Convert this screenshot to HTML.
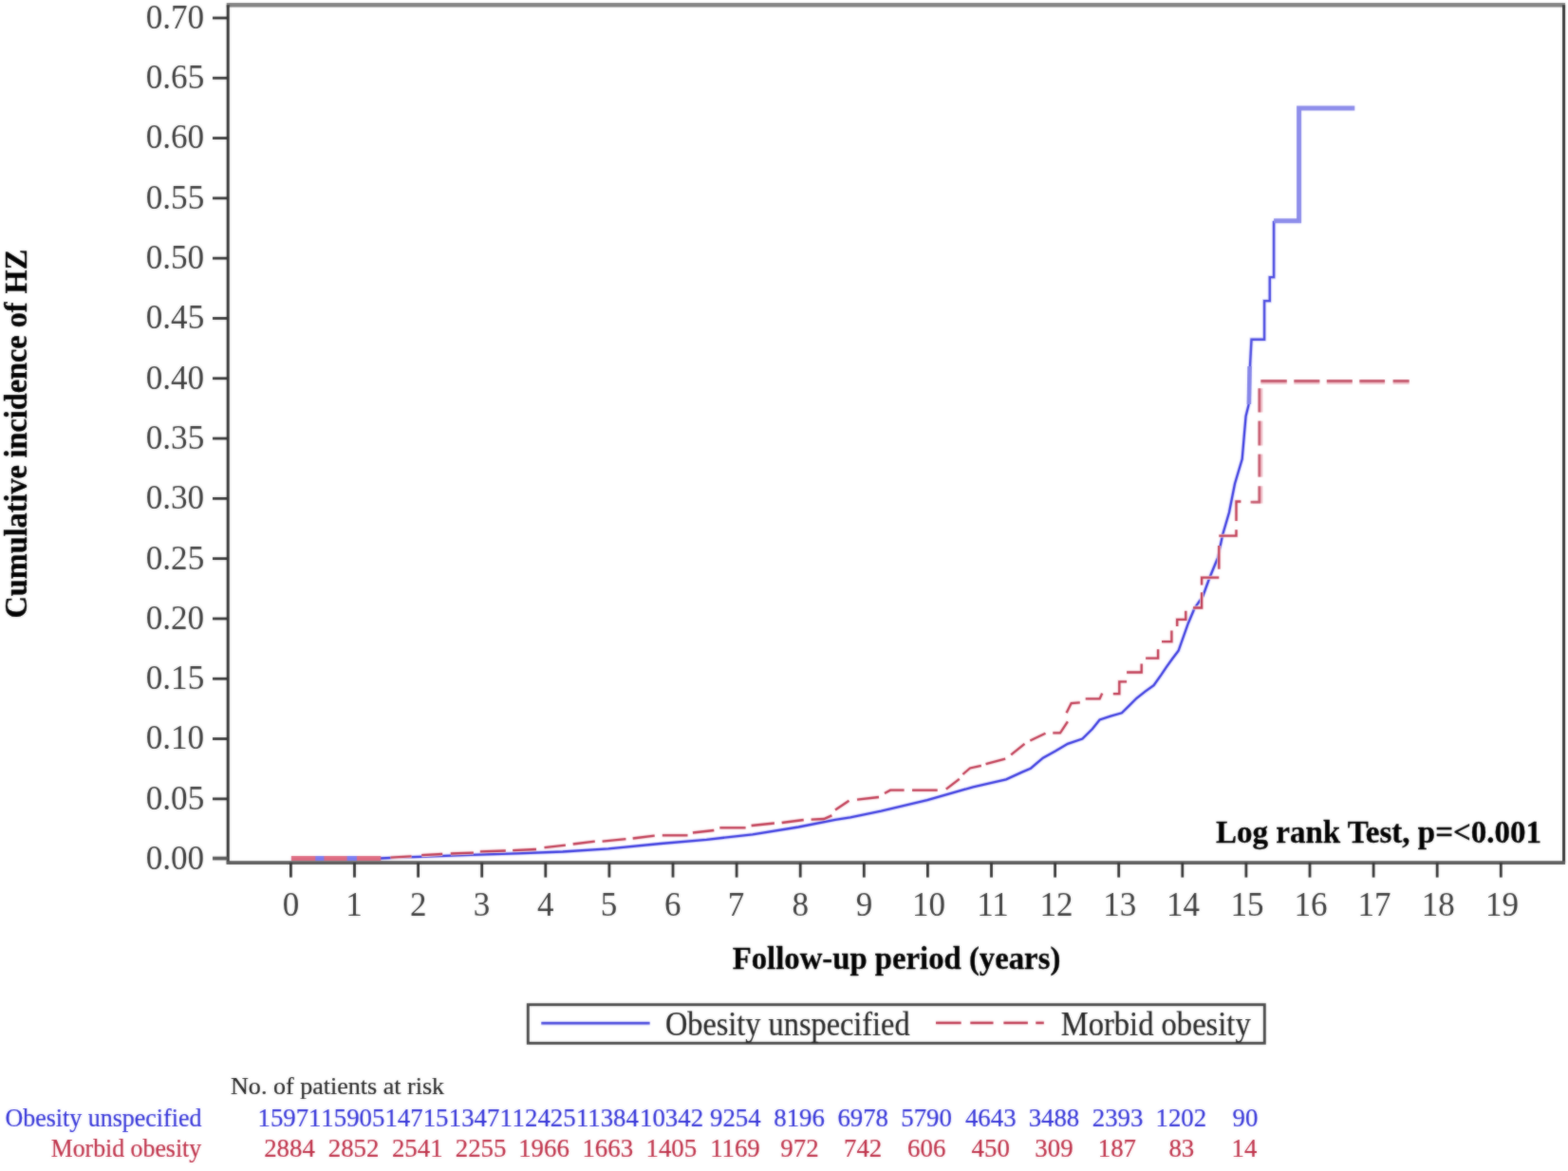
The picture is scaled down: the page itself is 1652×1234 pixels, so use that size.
<!DOCTYPE html>
<html lang="en">
<head>
<meta charset="utf-8">
<title>Cumulative incidence of HZ</title>
<style>
html,body{margin:0;padding:0;background:#fff;}
body{width:1652px;height:1234px;overflow:hidden;}
svg{display:block;}
text{font-family:"Liberation Serif","DejaVu Serif",serif;stroke-linejoin:round;}
</style>
</head>
<body>
<svg width="1652" height="1234" viewBox="0 0 1652 1234">
<defs>
<filter id="soft" x="0" y="0" width="100%" height="100%" filterUnits="objectBoundingBox" color-interpolation-filters="sRGB">
<feGaussianBlur in="SourceGraphic" stdDeviation="0.8" result="bl"/>
<feComposite in="SourceGraphic" in2="bl" operator="arithmetic" k1="0" k2="0.5" k3="0.5" k4="0"/>
</filter>
</defs>
<g filter="url(#soft)">
<rect x="0" y="0" width="1652" height="1234" fill="#ffffff"/>

<g fill="none" stroke="#333333" stroke-width="3">
<line x1="238.7" y1="5.2" x2="1649.1" y2="5.2" stroke="#828282" stroke-width="4.4"/>
<line x1="1647.6" y1="5.2" x2="1647.6" y2="909.2"/>
<line x1="240.2" y1="5.2" x2="240.2" y2="910.7"/>
<line x1="238.7" y1="909.2" x2="1649.1" y2="909.2" stroke-width="3.8" stroke="#5a5a5a"/>
<line x1="224" y1="904.55" x2="240.2" y2="904.55" stroke-width="3.8" stroke="#5a5a5a"/>
<line x1="224" y1="841.85" x2="240.2" y2="841.85" stroke-width="2.8"/>
<line x1="224" y1="778.55" x2="240.2" y2="778.55" stroke-width="2.8"/>
<line x1="224" y1="715.25" x2="240.2" y2="715.25" stroke-width="2.8"/>
<line x1="224" y1="651.95" x2="240.2" y2="651.95" stroke-width="2.8"/>
<line x1="224" y1="588.65" x2="240.2" y2="588.65" stroke-width="2.8"/>
<line x1="224" y1="525.35" x2="240.2" y2="525.35" stroke-width="2.8"/>
<line x1="224" y1="462.05" x2="240.2" y2="462.05" stroke-width="2.8"/>
<line x1="224" y1="398.75" x2="240.2" y2="398.75" stroke-width="2.8"/>
<line x1="224" y1="335.45" x2="240.2" y2="335.45" stroke-width="2.8"/>
<line x1="224" y1="272.15" x2="240.2" y2="272.15" stroke-width="2.8"/>
<line x1="224" y1="208.85" x2="240.2" y2="208.85" stroke-width="2.8"/>
<line x1="224" y1="145.55" x2="240.2" y2="145.55" stroke-width="2.8"/>
<line x1="224" y1="82.25" x2="240.2" y2="82.25" stroke-width="2.8"/>
<line x1="224" y1="18.95" x2="240.2" y2="18.95" stroke-width="2.8"/>
<line x1="306.4" y1="909.2" x2="306.4" y2="924.6" stroke-width="2.8"/>
<line x1="373.5" y1="909.2" x2="373.5" y2="924.6" stroke-width="2.8"/>
<line x1="440.6" y1="909.2" x2="440.6" y2="924.6" stroke-width="2.8"/>
<line x1="507.7" y1="909.2" x2="507.7" y2="924.6" stroke-width="2.8"/>
<line x1="574.8" y1="909.2" x2="574.8" y2="924.6" stroke-width="2.8"/>
<line x1="641.9" y1="909.2" x2="641.9" y2="924.6" stroke-width="2.8"/>
<line x1="709.0" y1="909.2" x2="709.0" y2="924.6" stroke-width="2.8"/>
<line x1="776.1" y1="909.2" x2="776.1" y2="924.6" stroke-width="2.8"/>
<line x1="843.2" y1="909.2" x2="843.2" y2="924.6" stroke-width="2.8"/>
<line x1="910.3" y1="909.2" x2="910.3" y2="924.6" stroke-width="2.8"/>
<line x1="977.4" y1="909.2" x2="977.4" y2="924.6" stroke-width="2.8"/>
<line x1="1044.5" y1="909.2" x2="1044.5" y2="924.6" stroke-width="2.8"/>
<line x1="1111.6" y1="909.2" x2="1111.6" y2="924.6" stroke-width="2.8"/>
<line x1="1178.7" y1="909.2" x2="1178.7" y2="924.6" stroke-width="2.8"/>
<line x1="1245.8" y1="909.2" x2="1245.8" y2="924.6" stroke-width="2.8"/>
<line x1="1312.9" y1="909.2" x2="1312.9" y2="924.6" stroke-width="2.8"/>
<line x1="1380.0" y1="909.2" x2="1380.0" y2="924.6" stroke-width="2.8"/>
<line x1="1447.1" y1="909.2" x2="1447.1" y2="924.6" stroke-width="2.8"/>
<line x1="1514.2" y1="909.2" x2="1514.2" y2="924.6" stroke-width="2.8"/>
<line x1="1581.3" y1="909.2" x2="1581.3" y2="924.6" stroke-width="2.8"/>
</g>
<text transform="translate(153.68,916.39) scale(1.0030,1)" font-size="35" fill="#3c3c3c">0.00</text>
<text transform="translate(153.77,852.74) scale(1.0030,1)" font-size="35" fill="#3c3c3c">0.05</text>
<text transform="translate(153.68,789.44) scale(1.0030,1)" font-size="35" fill="#3c3c3c">0.10</text>
<text transform="translate(153.77,726.14) scale(1.0030,1)" font-size="35" fill="#3c3c3c">0.15</text>
<text transform="translate(153.68,662.84) scale(1.0030,1)" font-size="35" fill="#3c3c3c">0.20</text>
<text transform="translate(153.77,599.54) scale(1.0030,1)" font-size="35" fill="#3c3c3c">0.25</text>
<text transform="translate(153.68,536.24) scale(1.0030,1)" font-size="35" fill="#3c3c3c">0.30</text>
<text transform="translate(153.77,472.94) scale(1.0030,1)" font-size="35" fill="#3c3c3c">0.35</text>
<text transform="translate(153.68,409.64) scale(1.0030,1)" font-size="35" fill="#3c3c3c">0.40</text>
<text transform="translate(153.77,346.34) scale(1.0030,1)" font-size="35" fill="#3c3c3c">0.45</text>
<text transform="translate(153.68,283.04) scale(1.0030,1)" font-size="35" fill="#3c3c3c">0.50</text>
<text transform="translate(153.77,219.74) scale(1.0030,1)" font-size="35" fill="#3c3c3c">0.55</text>
<text transform="translate(153.68,156.44) scale(1.0030,1)" font-size="35" fill="#3c3c3c">0.60</text>
<text transform="translate(153.77,93.14) scale(1.0030,1)" font-size="35" fill="#3c3c3c">0.65</text>
<text transform="translate(153.68,29.84) scale(1.0030,1)" font-size="35" fill="#3c3c3c">0.70</text>
<text transform="translate(297.65,964.60) scale(1.0000,1)" font-size="35" fill="#3c3c3c">0</text>
<text transform="translate(364.27,964.60) scale(1.0000,1)" font-size="35" fill="#3c3c3c">1</text>
<text transform="translate(432.02,964.60) scale(1.0000,1)" font-size="35" fill="#3c3c3c">2</text>
<text transform="translate(498.82,964.60) scale(1.0000,1)" font-size="35" fill="#3c3c3c">3</text>
<text transform="translate(565.96,964.60) scale(1.0000,1)" font-size="35" fill="#3c3c3c">4</text>
<text transform="translate(632.84,964.60) scale(1.0000,1)" font-size="35" fill="#3c3c3c">5</text>
<text transform="translate(700.03,964.60) scale(1.0000,1)" font-size="35" fill="#3c3c3c">6</text>
<text transform="translate(766.74,964.60) scale(1.0000,1)" font-size="35" fill="#3c3c3c">7</text>
<text transform="translate(834.45,964.60) scale(1.0000,1)" font-size="35" fill="#3c3c3c">8</text>
<text transform="translate(901.68,964.60) scale(1.0000,1)" font-size="35" fill="#3c3c3c">9</text>
<text transform="translate(961.02,964.60) scale(1.0000,1)" font-size="35" fill="#3c3c3c">10</text>
<text transform="translate(1029.17,964.60) scale(1.0000,1)" font-size="35" fill="#3c3c3c">11</text>
<text transform="translate(1095.53,964.60) scale(1.0000,1)" font-size="35" fill="#3c3c3c">12</text>
<text transform="translate(1162.37,964.60) scale(1.0000,1)" font-size="35" fill="#3c3c3c">13</text>
<text transform="translate(1229.03,964.60) scale(1.0000,1)" font-size="35" fill="#3c3c3c">14</text>
<text transform="translate(1296.57,964.60) scale(1.0000,1)" font-size="35" fill="#3c3c3c">15</text>
<text transform="translate(1363.49,964.60) scale(1.0000,1)" font-size="35" fill="#3c3c3c">16</text>
<text transform="translate(1430.59,964.60) scale(1.0000,1)" font-size="35" fill="#3c3c3c">17</text>
<text transform="translate(1497.82,964.60) scale(1.0000,1)" font-size="35" fill="#3c3c3c">18</text>
<text transform="translate(1564.97,964.60) scale(1.0000,1)" font-size="35" fill="#3c3c3c">19</text>
<text transform="translate(28.3,0) rotate(-90) scale(0.936,1)" font-size="34.5" font-weight="bold" fill="#000000" stroke="#000000" stroke-width="0.35" xml:space="preserve"><tspan x="-696.03">Cumulative </tspan><tspan x="-515.49">incidence </tspan><tspan x="-368.97">of </tspan><tspan x="-330.57">HZ</tspan></text>
<text transform="translate(771.73,1020.80) scale(0.9927,1)" font-size="33" font-weight="bold" fill="#000000" stroke="#000000" stroke-width="0.3">Follow-up period (years)</text>
<text transform="translate(1281.02,888.20) scale(0.9861,1)" font-size="33.5" font-weight="bold" fill="#000000" stroke="#000000" stroke-width="0.3">Log rank Test, p=&lt;0.001</text>
<g id="curve-unspecified">
<polyline fill="none" stroke="#7c7cf0" stroke-width="5.0" stroke-linejoin="miter" points="306.9,904.5 401.0,904.5"/>
<polyline fill="none" stroke="#d8d8fa" stroke-width="4.0" stroke-linejoin="miter" points="401.0,904.5 420.0,903.6 450.0,902.6 496.0,900.9 545.0,899.3 593.0,897.5 641.0,894.4 696.0,889.0 744.4,884.8 792.9,879.3 841.3,871.5 880.0,863.8 896.0,861.3 928.4,854.7 976.9,843.2 1025.3,829.3 1060.0,821.4 1076.9,813.6 1085.9,809.7 1098.9,798.7 1111.9,791.5 1124.9,783.8 1140.4,778.6 1150.8,768.2 1158.6,758.5 1170.2,754.6 1181.9,751.3 1189.7,743.6 1197.5,735.8 1206.6,728.6 1215.6,722.2 1223.4,711.1 1228.6,703.3 1235.1,694.3 1241.6,685.8 1251.9,656.7 1258.4,641.2 1267.4,628.2 1273.9,610.0 1283.0,588.0 1288.2,563.3 1295.0,540.0 1301.0,509.7 1308.7,483.8 1310.7,460.4 1312.6,438.4 1315.7,426.0"/>
<polyline fill="none" stroke="#3a3adf" stroke-width="2.3" stroke-linejoin="miter" points="401.0,904.5 420.0,903.6 450.0,902.6 496.0,900.9 545.0,899.3 593.0,897.5 641.0,894.4 696.0,889.0 744.4,884.8 792.9,879.3 841.3,871.5 880.0,863.8 896.0,861.3 928.4,854.7 976.9,843.2 1025.3,829.3 1060.0,821.4 1076.9,813.6 1085.9,809.7 1098.9,798.7 1111.9,791.5 1124.9,783.8 1140.4,778.6 1150.8,768.2 1158.6,758.5 1170.2,754.6 1181.9,751.3 1189.7,743.6 1197.5,735.8 1206.6,728.6 1215.6,722.2 1223.4,711.1 1228.6,703.3 1235.1,694.3 1241.6,685.8 1251.9,656.7 1258.4,641.2 1267.4,628.2 1273.9,610.0 1283.0,588.0 1288.2,563.3 1295.0,540.0 1301.0,509.7 1308.7,483.8 1310.7,460.4 1312.6,438.4 1315.7,426.0"/>
<polyline fill="none" stroke="#dcdcfa" stroke-width="4.2" stroke-linejoin="miter" points="1315.7,426.0 1317.1,384.1 1318.5,357.7 1332.1,357.7 1332.1,317.1 1337.8,317.1 1337.8,292.1 1342.1,292.1 1342.1,232.7"/>
<polyline fill="none" stroke="#4a4ae0" stroke-width="2.4" stroke-linejoin="miter" points="1315.7,426.0 1317.1,384.1 1318.5,357.7 1332.1,357.7 1332.1,317.1 1337.8,317.1 1337.8,292.1 1342.1,292.1 1342.1,232.7"/>
<polyline fill="none" stroke="#8585e8" stroke-width="4.6" stroke-linejoin="miter" points="1315.9,426.0 1316.6,386.0"/>
<polyline fill="none" stroke="#8c8cea" stroke-width="5.0" stroke-linejoin="miter" points="1342.1,232.7 1368.6,232.7 1368.6,114.0 1427.3,114.0"/>
</g>
<g id="curve-morbid">
<polyline fill="none" stroke="#de6c82" stroke-width="5.0" stroke-linejoin="miter" points="306.9,904.5 332.3,904.5"/>
<polyline fill="none" stroke="#de6c82" stroke-width="5.0" stroke-linejoin="miter" points="341.4,904.5 365.6,904.5"/>
<polyline fill="none" stroke="#de6c82" stroke-width="5.0" stroke-linejoin="miter" points="375.9,904.5 401.3,904.5"/>
<polyline fill="none" stroke="#f6dfe3" stroke-width="3.9" stroke-linejoin="miter" points="411.5,903.6 433.5,902.4"/>
<polyline fill="none" stroke="#f6dfe3" stroke-width="3.9" stroke-linejoin="miter" points="444.2,901.2 466.2,900.0"/>
<polyline fill="none" stroke="#f6dfe3" stroke-width="3.9" stroke-linejoin="miter" points="474.8,899.5 498.9,898.6"/>
<polyline fill="none" stroke="#f6dfe3" stroke-width="3.9" stroke-linejoin="miter" points="505.8,897.3 532.8,896.5"/>
<polyline fill="none" stroke="#f6dfe3" stroke-width="3.9" stroke-linejoin="miter" points="540.2,896.1 565.0,895.0"/>
<polyline fill="none" stroke="#f6dfe3" stroke-width="3.9" stroke-linejoin="miter" points="573.5,893.2 595.9,890.6"/>
<polyline fill="none" stroke="#f6dfe3" stroke-width="3.9" stroke-linejoin="miter" points="603.7,889.5 626.8,886.6"/>
<polyline fill="none" stroke="#f6dfe3" stroke-width="3.9" stroke-linejoin="miter" points="634.6,886.6 659.4,884.2"/>
<polyline fill="none" stroke="#f6dfe3" stroke-width="3.9" stroke-linejoin="miter" points="666.7,883.5 689.7,880.6"/>
<polyline fill="none" stroke="#f6dfe3" stroke-width="3.9" stroke-linejoin="miter" points="697.8,880.3 724.5,880.3"/>
<polyline fill="none" stroke="#f6dfe3" stroke-width="3.9" stroke-linejoin="miter" points="729.9,877.5 752.3,875.0"/>
<polyline fill="none" stroke="#f6dfe3" stroke-width="3.9" stroke-linejoin="miter" points="758.3,872.3 785.6,872.3"/>
<polyline fill="none" stroke="#f6dfe3" stroke-width="3.9" stroke-linejoin="miter" points="791.6,870.0 815.9,867.5"/>
<polyline fill="none" stroke="#f6dfe3" stroke-width="3.9" stroke-linejoin="miter" points="823.7,867.0 846.7,864.0"/>
<polyline fill="none" stroke="#f6dfe3" stroke-width="3.9" stroke-linejoin="miter" points="854.6,863.6 868.0,863.0 876.4,859.4"/>
<polyline fill="none" stroke="#f6dfe3" stroke-width="3.9" stroke-linejoin="miter" points="880.0,853.5 894.5,843.8"/>
<polyline fill="none" stroke="#f6dfe3" stroke-width="3.9" stroke-linejoin="miter" points="903.0,842.6 926.0,840.0"/>
<polyline fill="none" stroke="#f6dfe3" stroke-width="3.9" stroke-linejoin="miter" points="932.0,836.0 938.0,832.7 952.6,832.7"/>
<polyline fill="none" stroke="#f6dfe3" stroke-width="3.9" stroke-linejoin="miter" points="961.0,832.7 987.7,832.7"/>
<polyline fill="none" stroke="#f6dfe3" stroke-width="3.9" stroke-linejoin="miter" points="996.8,831.7 1010.8,820.8"/>
<polyline fill="none" stroke="#f6dfe3" stroke-width="3.9" stroke-linejoin="miter" points="1014.4,816.0 1022.0,809.5 1033.8,806.9"/>
<polyline fill="none" stroke="#f6dfe3" stroke-width="3.9" stroke-linejoin="miter" points="1038.6,805.1 1059.2,799.7"/>
<polyline fill="none" stroke="#f6dfe3" stroke-width="3.9" stroke-linejoin="miter" points="1065.2,795.4 1079.5,783.8"/>
<polyline fill="none" stroke="#f6dfe3" stroke-width="3.9" stroke-linejoin="miter" points="1085.3,780.5 1101.5,772.7"/>
<polyline fill="none" stroke="#f6dfe3" stroke-width="3.9" stroke-linejoin="miter" points="1109.3,772.3 1117.0,772.3 1124.9,760.4"/>
<polyline fill="none" stroke="#f6dfe3" stroke-width="3.9" stroke-linejoin="miter" points="1123.6,751.3 1128.7,741.0 1137.8,740.3"/>
<polyline fill="none" stroke="#f6dfe3" stroke-width="3.9" stroke-linejoin="miter" points="1143.7,736.4 1158.6,736.4 1161.2,730.6"/>
<polyline fill="none" stroke="#f6dfe3" stroke-width="3.9" stroke-linejoin="miter" points="1172.8,731.2 1179.3,731.2 1179.3,718.3 1187.1,718.3"/>
<polyline fill="none" stroke="#f6dfe3" stroke-width="3.9" stroke-linejoin="miter" points="1187.1,708.5 1202.7,708.5 1202.7,699.5"/>
<polyline fill="none" stroke="#f6dfe3" stroke-width="3.9" stroke-linejoin="miter" points="1207.1,693.6 1220.1,693.6 1220.1,684.2"/>
<polyline fill="none" stroke="#f6dfe3" stroke-width="3.9" stroke-linejoin="miter" points="1224.0,676.2 1234.4,676.2 1234.4,664.5"/>
<polyline fill="none" stroke="#f6dfe3" stroke-width="3.9" stroke-linejoin="miter" points="1240.2,660.0 1240.2,652.8 1249.3,652.8 1249.3,643.8"/>
<polyline fill="none" stroke="#f6dfe3" stroke-width="3.9" stroke-linejoin="miter" points="1257.1,640.5 1266.1,640.5 1266.1,624.3"/>
<polyline fill="none" stroke="#f6dfe3" stroke-width="3.9" stroke-linejoin="miter" points="1266.1,616.5 1266.1,608.7 1284.3,608.7"/>
<polyline fill="none" stroke="#f6dfe3" stroke-width="3.9" stroke-linejoin="miter" points="1284.3,599.7 1284.3,575.0"/>
<polyline fill="none" stroke="#f6dfe3" stroke-width="3.9" stroke-linejoin="miter" points="1284.3,564.6 1302.5,564.6 1302.5,558.2"/>
<polyline fill="none" stroke="#f6dfe3" stroke-width="3.9" stroke-linejoin="miter" points="1302.5,549.1 1302.5,528.5 1307.4,528.5"/>
<polyline fill="none" stroke="#c03c54" stroke-width="2.3" stroke-linejoin="miter" points="411.5,903.6 433.5,902.4"/>
<polyline fill="none" stroke="#c03c54" stroke-width="2.3" stroke-linejoin="miter" points="444.2,901.2 466.2,900.0"/>
<polyline fill="none" stroke="#c03c54" stroke-width="2.3" stroke-linejoin="miter" points="474.8,899.5 498.9,898.6"/>
<polyline fill="none" stroke="#c03c54" stroke-width="2.3" stroke-linejoin="miter" points="505.8,897.3 532.8,896.5"/>
<polyline fill="none" stroke="#c03c54" stroke-width="2.3" stroke-linejoin="miter" points="540.2,896.1 565.0,895.0"/>
<polyline fill="none" stroke="#c03c54" stroke-width="2.3" stroke-linejoin="miter" points="573.5,893.2 595.9,890.6"/>
<polyline fill="none" stroke="#c03c54" stroke-width="2.3" stroke-linejoin="miter" points="603.7,889.5 626.8,886.6"/>
<polyline fill="none" stroke="#c03c54" stroke-width="2.3" stroke-linejoin="miter" points="634.6,886.6 659.4,884.2"/>
<polyline fill="none" stroke="#c03c54" stroke-width="2.3" stroke-linejoin="miter" points="666.7,883.5 689.7,880.6"/>
<polyline fill="none" stroke="#c03c54" stroke-width="2.3" stroke-linejoin="miter" points="697.8,880.3 724.5,880.3"/>
<polyline fill="none" stroke="#c03c54" stroke-width="2.3" stroke-linejoin="miter" points="729.9,877.5 752.3,875.0"/>
<polyline fill="none" stroke="#c03c54" stroke-width="2.3" stroke-linejoin="miter" points="758.3,872.3 785.6,872.3"/>
<polyline fill="none" stroke="#c03c54" stroke-width="2.3" stroke-linejoin="miter" points="791.6,870.0 815.9,867.5"/>
<polyline fill="none" stroke="#c03c54" stroke-width="2.3" stroke-linejoin="miter" points="823.7,867.0 846.7,864.0"/>
<polyline fill="none" stroke="#c03c54" stroke-width="2.3" stroke-linejoin="miter" points="854.6,863.6 868.0,863.0 876.4,859.4"/>
<polyline fill="none" stroke="#c03c54" stroke-width="2.3" stroke-linejoin="miter" points="880.0,853.5 894.5,843.8"/>
<polyline fill="none" stroke="#c03c54" stroke-width="2.3" stroke-linejoin="miter" points="903.0,842.6 926.0,840.0"/>
<polyline fill="none" stroke="#c03c54" stroke-width="2.3" stroke-linejoin="miter" points="932.0,836.0 938.0,832.7 952.6,832.7"/>
<polyline fill="none" stroke="#c03c54" stroke-width="2.3" stroke-linejoin="miter" points="961.0,832.7 987.7,832.7"/>
<polyline fill="none" stroke="#c03c54" stroke-width="2.3" stroke-linejoin="miter" points="996.8,831.7 1010.8,820.8"/>
<polyline fill="none" stroke="#c03c54" stroke-width="2.3" stroke-linejoin="miter" points="1014.4,816.0 1022.0,809.5 1033.8,806.9"/>
<polyline fill="none" stroke="#c03c54" stroke-width="2.3" stroke-linejoin="miter" points="1038.6,805.1 1059.2,799.7"/>
<polyline fill="none" stroke="#c03c54" stroke-width="2.3" stroke-linejoin="miter" points="1065.2,795.4 1079.5,783.8"/>
<polyline fill="none" stroke="#c03c54" stroke-width="2.3" stroke-linejoin="miter" points="1085.3,780.5 1101.5,772.7"/>
<polyline fill="none" stroke="#c03c54" stroke-width="2.3" stroke-linejoin="miter" points="1109.3,772.3 1117.0,772.3 1124.9,760.4"/>
<polyline fill="none" stroke="#c03c54" stroke-width="2.3" stroke-linejoin="miter" points="1123.6,751.3 1128.7,741.0 1137.8,740.3"/>
<polyline fill="none" stroke="#c03c54" stroke-width="2.3" stroke-linejoin="miter" points="1143.7,736.4 1158.6,736.4 1161.2,730.6"/>
<polyline fill="none" stroke="#c03c54" stroke-width="2.3" stroke-linejoin="miter" points="1172.8,731.2 1179.3,731.2 1179.3,718.3 1187.1,718.3"/>
<polyline fill="none" stroke="#c03c54" stroke-width="2.3" stroke-linejoin="miter" points="1187.1,708.5 1202.7,708.5 1202.7,699.5"/>
<polyline fill="none" stroke="#c03c54" stroke-width="2.3" stroke-linejoin="miter" points="1207.1,693.6 1220.1,693.6 1220.1,684.2"/>
<polyline fill="none" stroke="#c03c54" stroke-width="2.3" stroke-linejoin="miter" points="1224.0,676.2 1234.4,676.2 1234.4,664.5"/>
<polyline fill="none" stroke="#c03c54" stroke-width="2.3" stroke-linejoin="miter" points="1240.2,660.0 1240.2,652.8 1249.3,652.8 1249.3,643.8"/>
<polyline fill="none" stroke="#c03c54" stroke-width="2.3" stroke-linejoin="miter" points="1257.1,640.5 1266.1,640.5 1266.1,624.3"/>
<polyline fill="none" stroke="#c03c54" stroke-width="2.3" stroke-linejoin="miter" points="1266.1,616.5 1266.1,608.7 1284.3,608.7"/>
<polyline fill="none" stroke="#c03c54" stroke-width="2.3" stroke-linejoin="miter" points="1284.3,599.7 1284.3,575.0"/>
<polyline fill="none" stroke="#c03c54" stroke-width="2.3" stroke-linejoin="miter" points="1284.3,564.6 1302.5,564.6 1302.5,558.2"/>
<polyline fill="none" stroke="#c03c54" stroke-width="2.3" stroke-linejoin="miter" points="1302.5,549.1 1302.5,528.5 1307.4,528.5"/>
<polyline fill="none" stroke="#f0c4cc" stroke-width="2.8" stroke-linejoin="miter" points="1319.8,529.2 1329.0,529.2 1329.0,512.3"/>
<polyline fill="none" stroke="#c65c70" stroke-width="2.8" stroke-linejoin="miter" points="1317.6,529.2 1326.8,529.2 1326.8,512.3"/>
<polyline fill="none" stroke="#f0c4cc" stroke-width="2.8" stroke-linejoin="miter" points="1329.0,502.6 1329.0,478.6"/>
<polyline fill="none" stroke="#c65c70" stroke-width="2.8" stroke-linejoin="miter" points="1326.8,502.6 1326.8,478.6"/>
<polyline fill="none" stroke="#f0c4cc" stroke-width="2.8" stroke-linejoin="miter" points="1329.0,469.5 1329.0,443.6"/>
<polyline fill="none" stroke="#c65c70" stroke-width="2.8" stroke-linejoin="miter" points="1326.8,469.5 1326.8,443.6"/>
<polyline fill="none" stroke="#f0c4cc" stroke-width="2.8" stroke-linejoin="miter" points="1329.0,434.5 1329.0,409.2"/>
<polyline fill="none" stroke="#c65c70" stroke-width="2.8" stroke-linejoin="miter" points="1326.8,434.5 1326.8,409.2"/>
<polyline fill="none" stroke="#f0c4cc" stroke-width="2.6" stroke-linejoin="miter" points="1328.3,403.7 1355.8,403.7"/>
<polyline fill="none" stroke="#c65c70" stroke-width="3.0" stroke-linejoin="miter" points="1328.3,401.5 1355.8,401.5"/>
<polyline fill="none" stroke="#f0c4cc" stroke-width="2.6" stroke-linejoin="miter" points="1363.3,403.7 1390.4,403.7"/>
<polyline fill="none" stroke="#c65c70" stroke-width="3.0" stroke-linejoin="miter" points="1363.3,401.5 1390.4,401.5"/>
<polyline fill="none" stroke="#f0c4cc" stroke-width="2.6" stroke-linejoin="miter" points="1397.8,403.7 1424.8,403.7"/>
<polyline fill="none" stroke="#c65c70" stroke-width="3.0" stroke-linejoin="miter" points="1397.8,401.5 1424.8,401.5"/>
<polyline fill="none" stroke="#f0c4cc" stroke-width="2.6" stroke-linejoin="miter" points="1432.3,403.7 1459.1,403.7"/>
<polyline fill="none" stroke="#c65c70" stroke-width="3.0" stroke-linejoin="miter" points="1432.3,401.5 1459.1,401.5"/>
<polyline fill="none" stroke="#f0c4cc" stroke-width="2.6" stroke-linejoin="miter" points="1467.6,403.7 1484.7,403.7"/>
<polyline fill="none" stroke="#c65c70" stroke-width="3.0" stroke-linejoin="miter" points="1467.6,401.5 1484.7,401.5"/>
</g>
<rect x="556.3" y="1058.7" width="776.0" height="40.6" fill="#fff" stroke="#484848" stroke-width="2.9"/>
<line x1="570.3" y1="1078.2" x2="684.6" y2="1078.2" stroke="#d8d8fa" stroke-width="4.6"/>
<line x1="570.3" y1="1078.2" x2="684.6" y2="1078.2" stroke="#4a4adc" stroke-width="2.6"/>
<text transform="translate(700.91,1091.00) scale(0.9238,1)" font-size="35" fill="#262626" stroke="#262626" stroke-width="0.2">Obesity unspecified</text>
<line x1="986" y1="1077.9" x2="1012.6" y2="1077.9" stroke="#f6dfe3" stroke-width="4.4"/>
<line x1="986" y1="1077.9" x2="1012.6" y2="1077.9" stroke="#c03c54" stroke-width="2.4"/>
<line x1="1022.3" y1="1077.9" x2="1046.5" y2="1077.9" stroke="#f6dfe3" stroke-width="4.4"/>
<line x1="1022.3" y1="1077.9" x2="1046.5" y2="1077.9" stroke="#c03c54" stroke-width="2.4"/>
<line x1="1057.4" y1="1077.9" x2="1082.9" y2="1077.9" stroke="#f6dfe3" stroke-width="4.4"/>
<line x1="1057.4" y1="1077.9" x2="1082.9" y2="1077.9" stroke="#c03c54" stroke-width="2.4"/>
<line x1="1091.3" y1="1077.9" x2="1099.8" y2="1077.9" stroke="#f6dfe3" stroke-width="4.4"/>
<line x1="1091.3" y1="1077.9" x2="1099.8" y2="1077.9" stroke="#c03c54" stroke-width="2.4"/>
<text transform="translate(1117.72,1091.00) scale(0.9313,1)" font-size="35" fill="#262626" stroke="#262626" stroke-width="0.2">Morbid obesity</text>
<text transform="translate(243.02,1152.60) scale(0.9955,1)" font-size="26.2" fill="#262626" stroke="#262626" stroke-width="0.2">No. of patients at risk</text>
<text transform="translate(5.46,1186.80) scale(0.9274,1)" font-size="28" fill="#3434d8" stroke="#3434d8" stroke-width="0.2">Obesity unspecified</text>
<text transform="translate(271.48,1186.80) scale(0.9586,1)" font-size="28" fill="#3434d8" stroke="#3434d8" stroke-width="0.2">15971</text>
<text transform="translate(338.31,1186.80) scale(0.9586,1)" font-size="28" fill="#3434d8" stroke="#3434d8" stroke-width="0.2">15905</text>
<text transform="translate(405.41,1186.80) scale(0.9586,1)" font-size="28" fill="#3434d8" stroke="#3434d8" stroke-width="0.2">14715</text>
<text transform="translate(472.78,1186.80) scale(0.9586,1)" font-size="28" fill="#3434d8" stroke="#3434d8" stroke-width="0.2">13471</text>
<text transform="translate(539.61,1186.80) scale(0.9586,1)" font-size="28" fill="#3434d8" stroke="#3434d8" stroke-width="0.2">12425</text>
<text transform="translate(606.88,1186.80) scale(0.9586,1)" font-size="28" fill="#3434d8" stroke="#3434d8" stroke-width="0.2">11384</text>
<text transform="translate(674.01,1186.80) scale(0.9586,1)" font-size="28" fill="#3434d8" stroke="#3434d8" stroke-width="0.2">10342</text>
<text transform="translate(748.03,1186.80) scale(0.9586,1)" font-size="28" fill="#3434d8" stroke="#3434d8" stroke-width="0.2">9254</text>
<text transform="translate(815.26,1186.80) scale(0.9586,1)" font-size="28" fill="#3434d8" stroke="#3434d8" stroke-width="0.2">8196</text>
<text transform="translate(882.39,1186.80) scale(0.9586,1)" font-size="28" fill="#3434d8" stroke="#3434d8" stroke-width="0.2">6978</text>
<text transform="translate(949.29,1186.80) scale(0.9586,1)" font-size="28" fill="#3434d8" stroke="#3434d8" stroke-width="0.2">5790</text>
<text transform="translate(1016.93,1186.80) scale(0.9586,1)" font-size="28" fill="#3434d8" stroke="#3434d8" stroke-width="0.2">4643</text>
<text transform="translate(1083.63,1186.80) scale(0.9586,1)" font-size="28" fill="#3434d8" stroke="#3434d8" stroke-width="0.2">3488</text>
<text transform="translate(1150.79,1186.80) scale(0.9586,1)" font-size="28" fill="#3434d8" stroke="#3434d8" stroke-width="0.2">2393</text>
<text transform="translate(1217.52,1186.80) scale(0.9586,1)" font-size="28" fill="#3434d8" stroke="#3434d8" stroke-width="0.2">1202</text>
<text transform="translate(1298.55,1186.80) scale(0.9586,1)" font-size="28" fill="#3434d8" stroke="#3434d8" stroke-width="0.2">90</text>
<text transform="translate(53.73,1218.90) scale(0.9220,1)" font-size="28" fill="#be3048" stroke="#be3048" stroke-width="0.2">Morbid obesity</text>
<text transform="translate(278.16,1218.90) scale(0.9586,1)" font-size="28" fill="#be3048" stroke="#be3048" stroke-width="0.2">2884</text>
<text transform="translate(345.79,1218.90) scale(0.9586,1)" font-size="28" fill="#be3048" stroke="#be3048" stroke-width="0.2">2852</text>
<text transform="translate(412.96,1218.90) scale(0.9586,1)" font-size="28" fill="#be3048" stroke="#be3048" stroke-width="0.2">2541</text>
<text transform="translate(479.79,1218.90) scale(0.9586,1)" font-size="28" fill="#be3048" stroke="#be3048" stroke-width="0.2">2255</text>
<text transform="translate(546.19,1218.90) scale(0.9586,1)" font-size="28" fill="#be3048" stroke="#be3048" stroke-width="0.2">1966</text>
<text transform="translate(613.42,1218.90) scale(0.9586,1)" font-size="28" fill="#be3048" stroke="#be3048" stroke-width="0.2">1663</text>
<text transform="translate(680.52,1218.90) scale(0.9586,1)" font-size="28" fill="#be3048" stroke="#be3048" stroke-width="0.2">1405</text>
<text transform="translate(748.13,1218.90) scale(0.9586,1)" font-size="28" fill="#be3048" stroke="#be3048" stroke-width="0.2">1169</text>
<text transform="translate(822.37,1218.90) scale(0.9586,1)" font-size="28" fill="#be3048" stroke="#be3048" stroke-width="0.2">972</text>
<text transform="translate(889.04,1218.90) scale(0.9586,1)" font-size="28" fill="#be3048" stroke="#be3048" stroke-width="0.2">742</text>
<text transform="translate(956.10,1218.90) scale(0.9586,1)" font-size="28" fill="#be3048" stroke="#be3048" stroke-width="0.2">606</text>
<text transform="translate(1023.60,1218.90) scale(0.9586,1)" font-size="28" fill="#be3048" stroke="#be3048" stroke-width="0.2">450</text>
<text transform="translate(1090.37,1218.90) scale(0.9586,1)" font-size="28" fill="#be3048" stroke="#be3048" stroke-width="0.2">309</text>
<text transform="translate(1156.80,1218.90) scale(0.9586,1)" font-size="28" fill="#be3048" stroke="#be3048" stroke-width="0.2">187</text>
<text transform="translate(1231.41,1218.90) scale(0.9586,1)" font-size="28" fill="#be3048" stroke="#be3048" stroke-width="0.2">83</text>
<text transform="translate(1297.51,1218.90) scale(0.9586,1)" font-size="28" fill="#be3048" stroke="#be3048" stroke-width="0.2">14</text>
</g>
</svg>
</body>
</html>
